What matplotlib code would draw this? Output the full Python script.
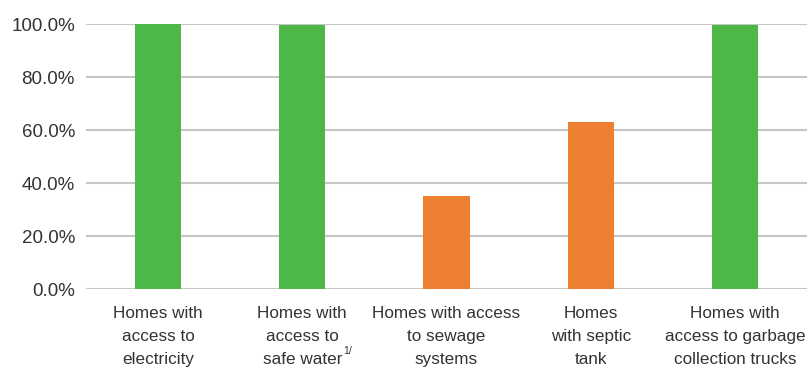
import matplotlib
matplotlib.use('Agg')
import matplotlib.pyplot as plt
from matplotlib.ticker import FuncFormatter

# Data
categories = ['Homes with\naccess to\nelectricity',
              'Homes with\naccess to\nsafe water',
              'Homes with access\nto sewage\nsystems',
              'Homes\nwith septic\ntank',
              'Homes with\naccess to garbage\ncollection trucks']
values = [100.0, 99.5, 35.0, 63.0, 99.5]
barColors = ['#4DB848', '#4DB848', '#ED7F31', '#ED7F31', '#4DB848']
yTicks = [0, 20, 40, 60, 80, 100]
footnoteMark = '1/'
footnoteIndex = 1

plt.rcParams['font.family'] = ['Liberation Sans', 'DejaVu Sans']

fig = plt.figure(figsize=(8.09, 3.71), dpi=100)
ax = fig.add_axes([0.1063, 0.221, 0.8912, 0.714])

x = range(len(categories))
ax.bar(x, values, width=0.32, color=barColors, zorder=3)

ax.set_xlim(-0.5, len(categories) - 0.5)
ax.set_ylim(0, 100)
ax.set_yticks(yTicks)
ax.yaxis.set_major_formatter(FuncFormatter(lambda v, p: f'{v:.1f}%'))
ax.set_xticks(list(x))
ax.set_xticklabels(categories, linespacing=1.7, fontsize=12.3)

ax.grid(axis='y', color='#C6C6C6', linewidth=1.5, zorder=0)
for s in ['top', 'right', 'left', 'bottom']:
    ax.spines[s].set_visible(False)
ax.tick_params(axis='both', length=0, colors='#333333')
ax.tick_params(axis='y', pad=8, labelsize=13.5)
ax.tick_params(axis='x', pad=12)

# superscript footnote mark after the last line of the label
fig.canvas.draw()
renderer = fig.canvas.get_renderer()
lbl = ax.get_xticklabels()[footnoteIndex]
bb = lbl.get_window_extent(renderer)
lastLine = categories[footnoteIndex].split('\n')[-1]
tmp = fig.text(0, 0, lastLine, fontsize=12.3)
lineW = tmp.get_window_extent(renderer).width
tmp.remove()
xc = (bb.x0 + bb.x1) / 2
ax.annotate(footnoteMark, xy=(xc + lineW / 2, bb.y0), xycoords='figure pixels',
            xytext=(0.5, 8), textcoords='offset points',
            fontsize=7.5, color='#333333', ha='left', va='bottom')

fig.savefig('out.png', dpi=100)
